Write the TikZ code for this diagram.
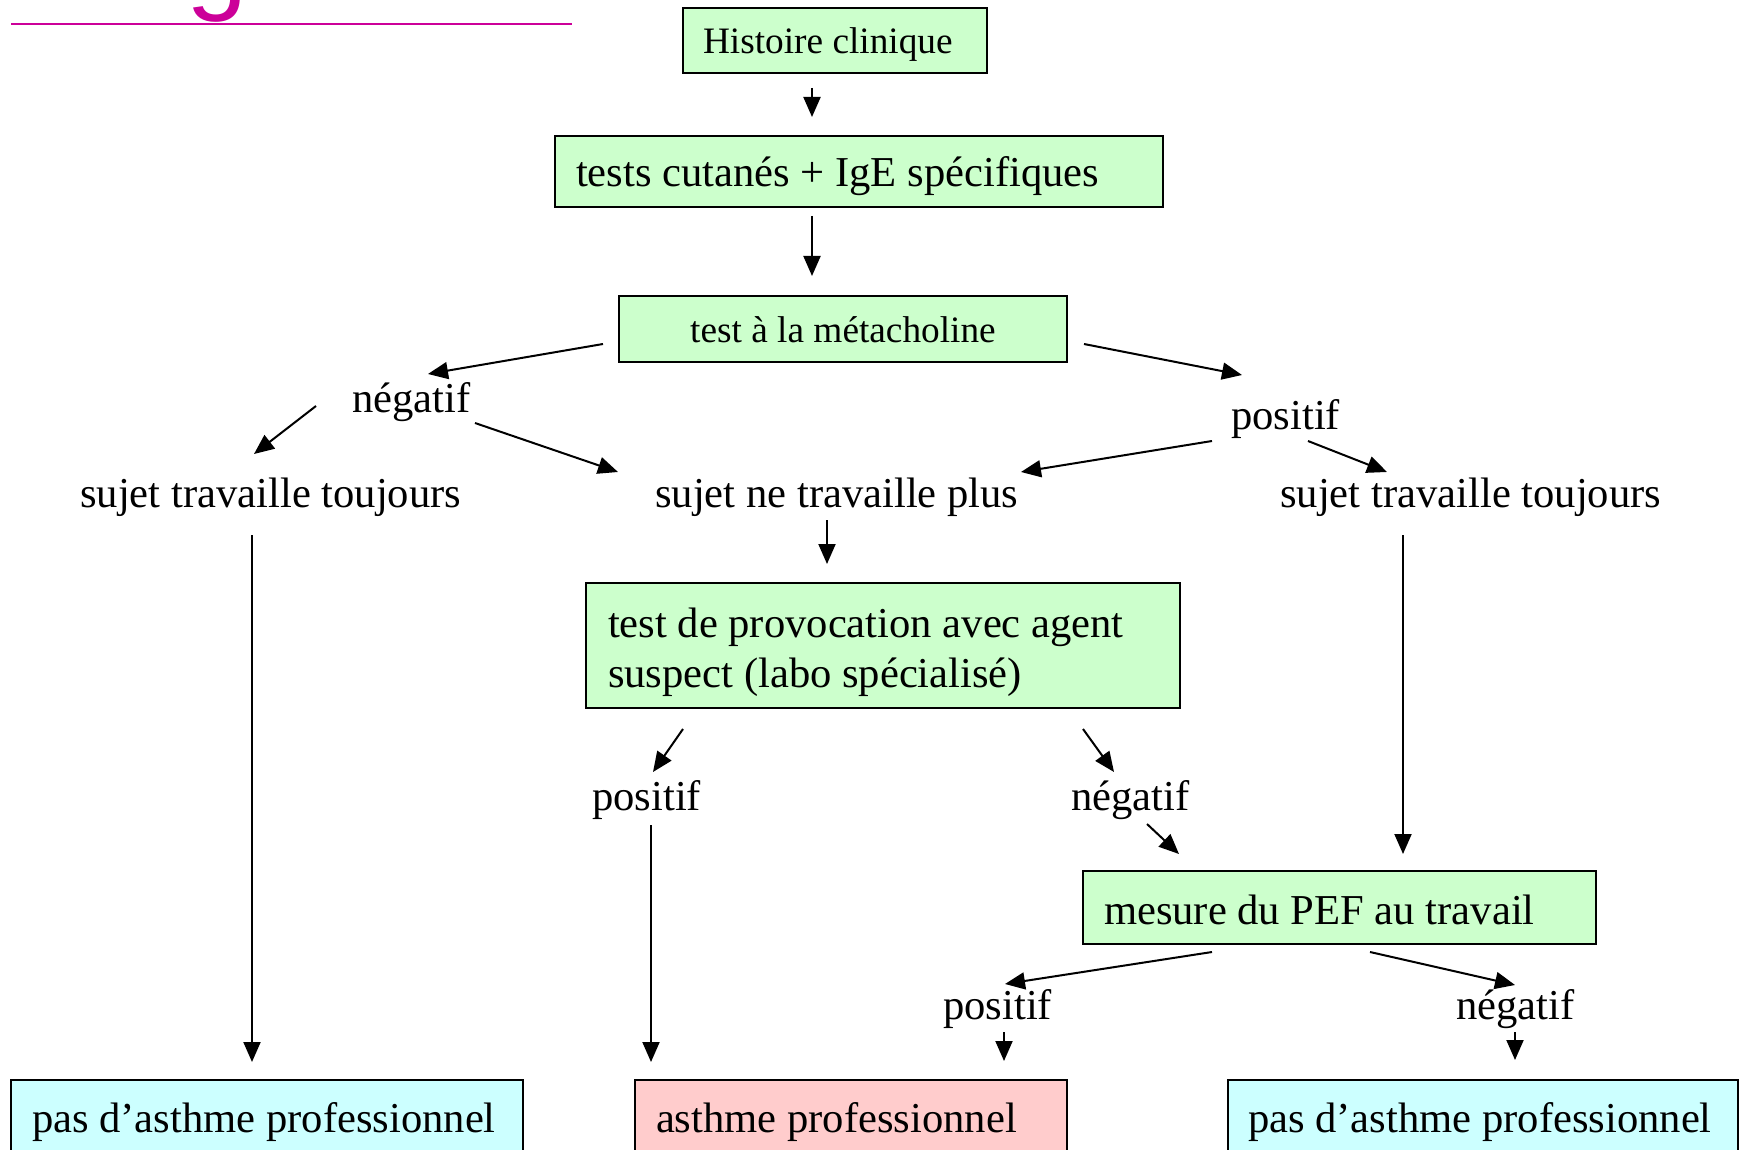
\documentclass[tikz,border=0pt]{standalone}
\usepackage{fontspec}
\setmainfont{Liberation Serif}
\newfontfamily\titlefont{Liberation Sans}
\usetikzlibrary{arrows.meta}
\definecolor{boxgreen}{HTML}{CCFFCC}
\definecolor{boxcyan}{HTML}{CCFFFF}
\definecolor{boxpink}{HTML}{FFCCCC}
\definecolor{titlemag}{HTML}{CC0099}
\newcommand{\bigtxt}{\fontsize{42.6pt}{50pt}\selectfont}
\newcommand{\smalltxt}{\fontsize{37.3pt}{44pt}\selectfont}
\begin{document}
\begin{tikzpicture}[x=1pt,y=-1pt,
  box/.style={draw=black, line width=2pt, inner xsep=21pt, inner ysep=0pt, align=flush left, font=\bigtxt},
  lab/.style={inner sep=0pt, anchor=base west, font=\bigtxt},
  arr/.style={line width=2pt, -{Triangle[length=20pt,width=17pt]}}]
\useasboundingbox (0,0) rectangle (1745,1150);
\clip (0,0) rectangle (1745,1150);
\fill[white] (0,0) rectangle (1745,1150);

% cut-off title
\node[inner sep=0pt, anchor=base west, text=titlemag, font={\titlefont\fontsize{110pt}{120pt}\selectfont}] (title) at (186,0) {g};
\draw[titlemag, line width=2.5pt] (11,24) -- (572,24);

% boxes
\node[box, fill=boxgreen, font=\smalltxt, minimum width=304pt, minimum height=65pt, text width=264pt, inner xsep=20pt, text height=37pt, text depth=10pt] (hist) at (835,40.5) {Histoire clinique};
\node[box, fill=boxgreen, minimum width=608pt, minimum height=71pt, text width=566pt, text height=41pt, text depth=10pt] (tests) at (859,171.5) {tests cutanés + IgE spécifiques};
\node[box, fill=boxgreen, font=\smalltxt, align=flush center, minimum width=448pt, minimum height=66pt, text width=406pt, text height=36pt, text depth=10pt] (meta) at (843,329) {test à la métacholine};
\node[box, fill=boxgreen, minimum width=594pt, minimum height=125pt, text width=550pt, inner xsep=22pt] (prov) at (883,645.5) {\rule{0pt}{43pt}test de provocation avec agent\\suspect (labo spécialisé)\rule[-10pt]{0pt}{10pt}};
\node[box, fill=boxgreen, minimum width=513pt, minimum height=73pt, text width=471pt, text height=43pt, text depth=10pt] (mes) at (1339.5,907.5) {mesure du PEF au travail};
\node[box, fill=boxcyan, minimum width=512pt, minimum height=78pt, text width=470pt, text height=36pt, text depth=10pt] (pasL) at (267,1119) {\mbox{pas d’asthme professionnel}};
\node[box, fill=boxpink, minimum width=432pt, minimum height=78pt, text width=390pt, text height=36pt, text depth=10pt] (asth) at (851,1119) {\mbox{asthme professionnel}};
\node[box, fill=boxcyan, minimum width=510pt, minimum height=78pt, text width=470pt, inner xsep=20pt, text height=36pt, text depth=10pt] (pasR) at (1483,1119) {\mbox{pas d’asthme professionnel}};

% labels
\node[lab] (negA) at (352,412) {négatif};
\node[lab] (posA) at (1231,429) {positif};
\node[lab] (stL) at (80,507) {sujet travaille toujours};
\node[lab] (stM) at (655,507) {sujet ne travaille plus};
\node[lab] (stR) at (1280,507) {sujet travaille toujours};
\node[lab] (posB) at (592,810) {positif};
\node[lab] (negB) at (1071,810) {négatif};
\node[lab] (posC) at (943,1019) {positif};
\node[lab] (negC) at (1456,1019) {négatif};

% connectors
\draw[arr] ([shift={(-23,14)}]hist.south) -- ([shift={(-47,-18)}]tests.north);
\draw[arr] ([shift={(-47,8)}]tests.south) -- ([shift={(-31,-19)}]meta.north);
\draw[arr] ([shift={(-15,15)}]meta.west) -- ([shift={(76,-38)}]negA.base west);
\draw[arr] ([shift={(-36,-6)}]negA.base west) -- ([shift={(174,-53)}]stL.base west);
\draw[arr] ([shift={(123,11)}]negA.base west) -- ([shift={(-37,-35)}]stM.base west);
\draw[arr] ([shift={(16,15)}]meta.east) -- ([shift={(11,-54)}]posA.base west);
\draw[arr] ([shift={(-19,12)}]posA.base west) -- ([shift={(366,-35)}]stM.base west);
\draw[arr] ([shift={(77,12)}]posA.base west) -- ([shift={(107,-35)}]stR.base west);
\draw[arr] ([shift={(172,13)}]stM.base west) -- ([shift={(-56,-18)}]prov.north);
\draw[arr] ([shift={(172,28)}]stL.base west) -- ([shift={(-15,-17)}]pasL.north);
\draw[arr] ([shift={(123,28)}]stR.base west) -- ([shift={(63.5,-16)}]mes.north);
\draw[arr] ([shift={(-200,20)}]prov.south) -- ([shift={(61,-38)}]posB.base west);
\draw[arr] ([shift={(59,15)}]posB.base west) -- ([shift={(-200,-17)}]asth.north);
\draw[arr] ([shift={(200,20)}]prov.south) -- ([shift={(43,-38)}]negB.base west);
\draw[arr] ([shift={(76,14)}]negB.base west) -- ([shift={(-160.5,-16)}]mes.north);
\draw[arr] ([shift={(-127.5,7)}]mes.south) -- ([shift={(62,-35)}]posC.base west);
\draw[arr] ([shift={(30.5,7)}]mes.south) -- ([shift={(59,-34)}]negC.base west);
\draw[arr] ([shift={(61,13)}]posC.base west) -- ([shift={(153,-18)}]asth.north);
\draw[arr] ([shift={(59,13)}]negC.base west) -- ([shift={(32,-19)}]pasR.north);
\end{tikzpicture}
\end{document}
